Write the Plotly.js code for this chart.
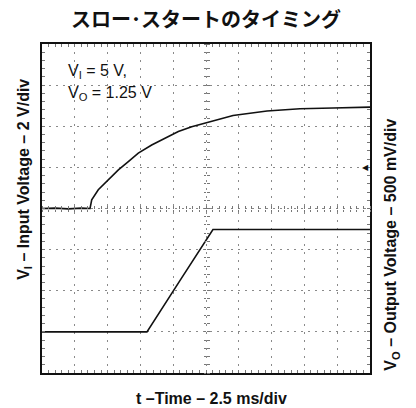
<!DOCTYPE html>
<html>
<head>
<meta charset="utf-8">
<script src="https://cdn.plot.ly/plotly-3.0.1.min.js"></script>
<style>html,body{margin:0;padding:0;background:#fff;}#chart{width:416px;height:408px;}</style>
</head>
<body>
<div id="chart"></div>
<script>
// Time in ms (2.5 ms/div)
var tIn  = [0, 1.0, 2.0, 3.0, 3.66, 3.79, 4.29, 5.05, 5.82, 6.58, 7.34, 8.36, 9.37, 10.39, 11.41, 12.42, 13.70, 14.56, 17.15, 19.66, 22.18, 25.0];
// V_I in volts (2 V/div)
var vIn  = [0, 0.02, -0.02, 0.02, 0.0, 0.42, 0.91, 1.39, 1.88, 2.28, 2.69, 3.09, 3.42, 3.74, 3.98, 4.15, 4.35, 4.52, 4.74, 4.85, 4.89, 4.93];
// Time in ms for output
var tOut = [0, 2.0, 4.0, 6.0, 8.0, 10.5, 13.03, 15.0, 17.5, 20.0, 22.5, 25.0];
// V_O in volts (500 mV/div)
var vOut = [0.0, 0.0, 0.0, 0.0, 0.0, 0.62, 1.245, 1.245, 1.245, 1.25, 1.245, 1.245];

var traces = [
  {x: tIn, y: vIn, xaxis: 'x', yaxis: 'y', mode: 'lines', line: {color: '#111', width: 1.6}, hoverinfo: 'skip'},
  {x: tOut, y: vOut, xaxis: 'x', yaxis: 'y2', mode: 'lines', line: {color: '#111', width: 1.6}, hoverinfo: 'skip'},
  {x: [], y: [], xaxis: 'x2', yaxis: 'y5'},
  {x: [], y: [], xaxis: 'x3', yaxis: 'y3'},
  {x: [], y: [], xaxis: 'x4', yaxis: 'y4'}
];

var tickCol = '#777';
var gridCol = '#8a8a8a';
var layout = {
  width: 416, height: 408,
  margin: {l: 42, r: 46, t: 44, b: 35},
  paper_bgcolor: '#fff', plot_bgcolor: '#fff',
  showlegend: false,
  font: {family: 'Liberation Sans, Arial, sans-serif', color: '#111'},
  title: {text: 'スロー･スタートのタイミング', x: 0.495, xanchor: 'center', y: 0.951, yanchor: 'middle',
          font: {family: 'Noto Sans CJK JP', size: 20, weight: 'bold', color: '#111'}},
  xaxis: {range: [0, 25], tick0: 0, dtick: 2.5, showgrid: true, gridcolor: gridCol, gridwidth: 1, griddash: '2px,6px',
          zeroline: false, showline: true, mirror: true, linecolor: '#111', linewidth: 2, ticks: '', showticklabels: false, fixedrange: true},
  yaxis: {range: [-8, 8], tick0: 0, dtick: 2, showgrid: true, gridcolor: gridCol, gridwidth: 1, griddash: '2px,5px',
          zeroline: false, showline: true, mirror: true, linecolor: '#111', linewidth: 2, ticks: '', showticklabels: false, fixedrange: true},
  yaxis2: {overlaying: 'y', side: 'right', range: [-0.5, 3.5], showgrid: false, zeroline: false, showline: false, ticks: '', showticklabels: false},
  // frame minor ticks
  xaxis2: {overlaying: 'x', anchor: 'y5', range: [0, 25], tick0: 0, dtick: 0.5, ticks: 'inside', ticklen: 3, tickcolor: tickCol, tickwidth: 1,
           mirror: 'allticks', showline: true, linecolor: '#111', linewidth: 2, showgrid: false, zeroline: false, showticklabels: false},
  yaxis5: {overlaying: 'y', anchor: 'x2', range: [-8, 8], tick0: 0, dtick: 0.4, ticks: 'inside', ticklen: 3, tickcolor: tickCol, tickwidth: 1,
           mirror: 'allticks', showline: true, linecolor: '#111', linewidth: 2, showgrid: false, zeroline: false, showticklabels: false},
  // centre-line ticks
  xaxis3: {overlaying: 'x', anchor: 'free', position: 0.5, side: 'bottom', range: [0, 25], tick0: 0, dtick: 0.5, ticks: 'outside', ticklen: 2.5,
           tickcolor: tickCol, tickwidth: 1, showline: false, showgrid: false, zeroline: false, showticklabels: false},
  xaxis4: {overlaying: 'x', anchor: 'free', position: 0.5, side: 'top', range: [0, 25], tick0: 0, dtick: 0.5, ticks: 'outside', ticklen: 2.5,
           tickcolor: tickCol, tickwidth: 1, showline: false, showgrid: false, zeroline: false, showticklabels: false},
  yaxis3: {overlaying: 'y', anchor: 'free', position: 0.5, side: 'left', range: [-8, 8], tick0: 0, dtick: 0.4, ticks: 'outside', ticklen: 2.5,
           tickcolor: tickCol, tickwidth: 1, showline: false, showgrid: false, zeroline: false, showticklabels: false},
  yaxis4: {overlaying: 'y', anchor: 'free', position: 0.5, side: 'right', range: [-8, 8], tick0: 0, dtick: 0.4, ticks: 'outside', ticklen: 2.5,
           tickcolor: tickCol, tickwidth: 1, showline: false, showgrid: false, zeroline: false, showticklabels: false},
  annotations: [
    {text: 'V<sub>I</sub> = 5 V,', xref: 'paper', yref: 'paper', x: 0.072, y: 0.915, xanchor: 'left', yanchor: 'middle', showarrow: false,
     font: {size: 16, color: '#111'}},
    {text: 'V<sub>O</sub> = 1.25 V', xref: 'paper', yref: 'paper', x: 0.072, y: 0.85, xanchor: 'left', yanchor: 'middle', showarrow: false,
     font: {size: 16, color: '#111'}},
    {text: '<b>t –Time – 2.5 ms/div</b>', xref: 'paper', yref: 'paper', x: 0.517, y: -0.076, xanchor: 'center', yanchor: 'middle', showarrow: false,
     font: {size: 16, color: '#111'}},
    {text: '<b>V<sub>I</sub> – Input Voltage – 2 V/div</b>', xref: 'paper', yref: 'paper', x: -0.052, y: 0.59, xanchor: 'center', yanchor: 'middle',
     textangle: -90, showarrow: false, font: {size: 16, color: '#111'}},
    {text: '<b>V<sub>O</sub> – Output Voltage – 500 mV/div</b>', xref: 'paper', yref: 'paper', x: 1.067, y: 0.39, xanchor: 'center', yanchor: 'middle',
     textangle: -90, showarrow: false, font: {size: 16, color: '#111'}},
    {text: '◀', xref: 'paper', yref: 'y', x: 0.985, y: 2, xanchor: 'center', yanchor: 'middle', showarrow: false,
     font: {family: 'DejaVu Sans', size: 8, color: '#111'}}
  ]
};

Plotly.newPlot('chart', traces, layout, {staticPlot: true, displayModeBar: false});
</script>
</body>
</html>
